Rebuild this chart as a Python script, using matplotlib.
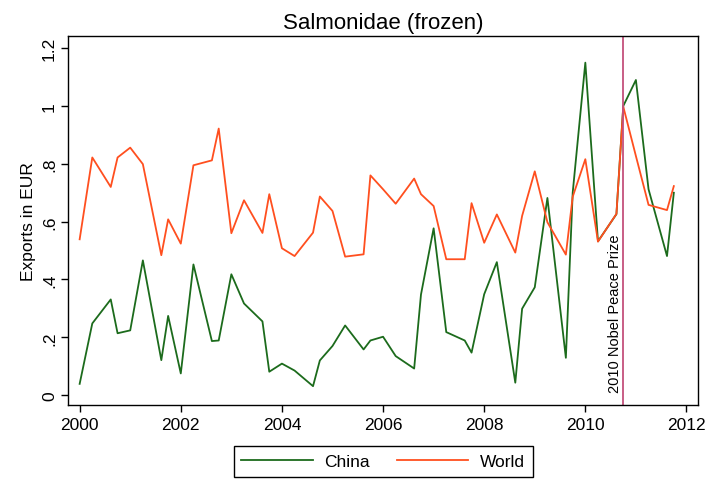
#!/usr/bin/env python3
"""Salmonidae (frozen): quarterly exports, China vs World."""

import matplotlib
matplotlib.use("Agg")
import matplotlib.pyplot as plt

plt.rcParams.update({
    "font.family": ["Liberation Sans", "DejaVu Sans"],
    "axes.linewidth": 1.0,
    "xtick.direction": "out",
    "ytick.direction": "out",
})

# period positions (fractional years) as plotted
dates = [
    2000.0, 2000.25, 2000.615, 2000.75,
    2001.0, 2001.25, 2001.615, 2001.75,
    2002.0, 2002.25, 2002.615, 2002.75,
    2003.0, 2003.25, 2003.615, 2003.75,
    2004.0, 2004.25, 2004.615, 2004.75,
    2005.0, 2005.25, 2005.615, 2005.75,
    2006.0, 2006.25, 2006.615, 2006.75,
    2007.0, 2007.25, 2007.615, 2007.75,
    2008.0, 2008.25, 2008.615, 2008.75,
    2009.0, 2009.25, 2009.615, 2009.75,
    2010.0, 2010.25, 2010.615, 2010.75,
    2011.0, 2011.25, 2011.615, 2011.75,
]

china = [
    0.039, 0.248, 0.331, 0.214,
    0.224, 0.466, 0.121, 0.274,
    0.075, 0.452, 0.187, 0.189,
    0.418, 0.317, 0.255, 0.081,
    0.109, 0.085, 0.031, 0.120,
    0.170, 0.241, 0.158, 0.189,
    0.202, 0.135, 0.092, 0.348,
    0.577, 0.218, 0.189, 0.147,
    0.349, 0.460, 0.043, 0.299,
    0.373, 0.682, 0.129, 0.700,
    1.150, 0.532, 0.626, 1.000,
    1.090, 0.712, 0.481, 0.700,
]

world = [
    0.539, 0.822, 0.720, 0.822,
    0.856, 0.799, 0.484, 0.608,
    0.524, 0.795, 0.812, 0.922,
    0.560, 0.674, 0.561, 0.695,
    0.508, 0.481, 0.562, 0.687,
    0.637, 0.479, 0.487, 0.760,
    0.712, 0.662, 0.749, 0.695,
    0.654, 0.470, 0.470, 0.664,
    0.527, 0.625, 0.493, 0.620,
    0.774, 0.598, 0.486, 0.686,
    0.816, 0.531, 0.627, 0.998,
    0.827, 0.658, 0.640, 0.723,
]

xticks = [2000, 2002, 2004, 2006, 2008, 2010, 2012]
yticks = [0, 0.2, 0.4, 0.6, 0.8, 1.0, 1.2]
ytick_labels = ["0", ".2", ".4", ".6", ".8", "1", "1.2"]

event_x = 2010.75
event_label = "2010 Nobel Peace Prize"

GREEN = "#1c6b1c"
ORANGE = "#ff4f1f"
EVENT = "#c4507c"

fig = plt.figure(figsize=(7.16, 4.81), dpi=100)
ax = fig.add_axes([0.095, 0.156, 0.880, 0.767])

ax.plot(dates, china, color=GREEN, lw=1.3, label="China")
ax.plot(dates, world, color=ORANGE, lw=1.3, label="World")

ax.axvline(event_x, color=EVENT, lw=1.3)
ax.text(event_x - 0.02, 0.012, event_label, rotation=90, ha="right", va="bottom",
        fontsize=10.5, color="black")

ax.set_xlim(1999.77, 2012.23)
ax.set_ylim(-0.034, 1.242)
ax.set_xticks(xticks)
ax.set_yticks(yticks)
ax.set_yticklabels(ytick_labels, rotation=90, va="center")
ax.tick_params(axis="both", labelsize=12.5, length=5, width=1.0)
ax.tick_params(axis="y", pad=3)

ax.set_ylabel("Exports in EUR", fontsize=12.5, labelpad=4)
ax.set_title("Salmonidae (frozen)", fontsize=16, pad=6)

fig.legend(loc="center", bbox_to_anchor=(0.535, 0.0385), ncol=2, fontsize=12.5,
           frameon=True, fancybox=False, edgecolor="black", framealpha=1,
           handlelength=4.1, handletextpad=0.65, columnspacing=1.6,
           borderpad=0.45)

fig.savefig("out.png", dpi=100)
